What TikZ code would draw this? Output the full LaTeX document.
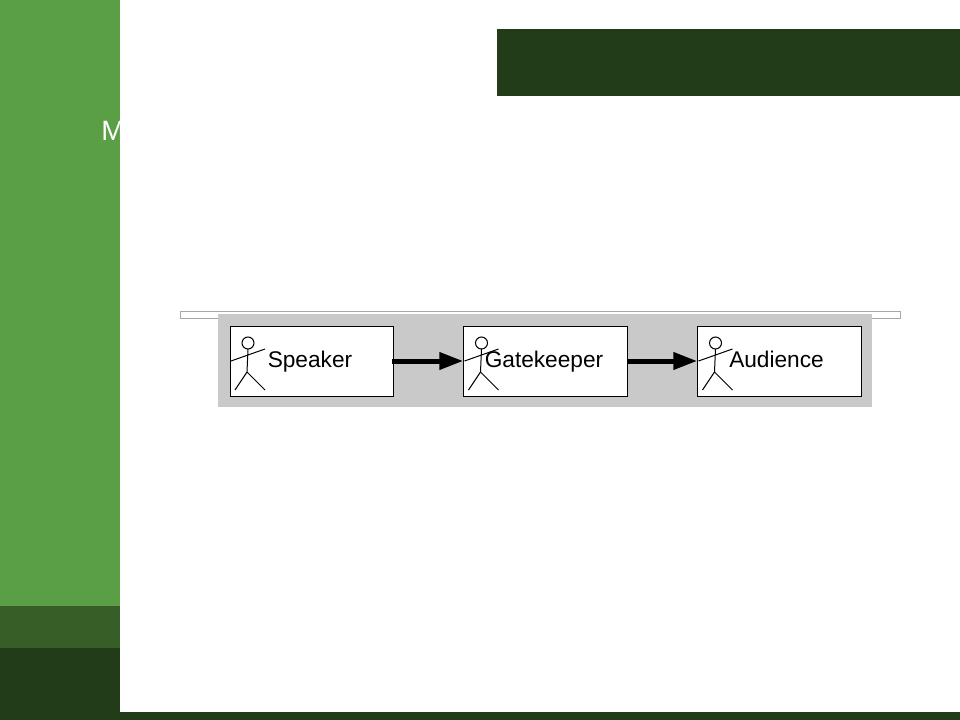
\documentclass[tikz,border=0pt]{standalone}
\usepackage{fontspec}
\setmainfont{Liberation Sans}
\usetikzlibrary{arrows.meta}
\definecolor{sidegreen}{HTML}{5A9E45}
\definecolor{midgreen}{HTML}{385E27}
\definecolor{darkgreen}{HTML}{223B18}
\definecolor{panelgray}{HTML}{C9C9C9}
\definecolor{shelfgray}{HTML}{A8A8A8}
\tikzset{
    actorbox/.style={draw=black, fill=white, line width=0.75pt, minimum width=122.6pt, minimum height=52.5pt, inner sep=0pt},
    actorname/.style={anchor=base west, inner sep=0pt, font=\fontsize{17}{20}\selectfont},
    flow/.style={line width=3.75pt, -{Triangle[length=18pt, width=12.5pt]}},
    stickman/.pic={
        \draw[line width=0.75pt] (18,-17) circle (6);
        \draw[line width=0.75pt] (18,-11) -- (17,12) (1,1) -- (35,-11)
            (5,30) -- (17,12) -- (35,30);
    },
}
\begin{document}
\begin{tikzpicture}[x=0.75pt, y=-0.75pt]
\useasboundingbox (0,0) rectangle (960,720);
% slide background
\fill[sidegreen] (0,0) rectangle (120,606);
\fill[midgreen] (0,606) rectangle (120,648);
\fill[darkgreen] (0,648) rectangle (120,720);
\fill[darkgreen] (120,711.5) rectangle (960,720);
\fill[darkgreen] (497,29) rectangle (960,96);
\node[anchor=base west, inner sep=0pt, text=white, font=\fontsize{21}{24}\selectfont] (title) at (101,141) {M};
% panel
\node[draw=shelfgray, fill=white, line width=1.1pt, minimum width=540pt, minimum height=5.4pt, inner sep=0pt] (shelf) at (540.5,315) {};
\fill[panelgray] (218,314) rectangle (872,406.5);
\node[actorbox] (speakerbox) at (312,361.5) {};
\node[actorbox] (gatekeeperbox) at (545.5,361.5) {};
\node[actorbox] (audiencebox) at (779.5,361.5) {};
\draw[flow, shorten <=-2pt] (speakerbox.east |- 0,361) -- (gatekeeperbox.west |- 0,361);
\draw[flow] (gatekeeperbox.east |- 0,361) -- (audiencebox.west |- 0,361);
\pic at (230,360) {stickman};
\pic at (463.5,360) {stickman};
\pic at (697.5,360) {stickman};
\node[actorname] (speaker) at (267.5,367.5) {Speaker};
\node[actorname] (gatekeeper) at (484.5,367.5) {Gatekeeper};
\node[actorname] (audience) at (729,367.5) {Audience};
\end{tikzpicture}
\end{document}
